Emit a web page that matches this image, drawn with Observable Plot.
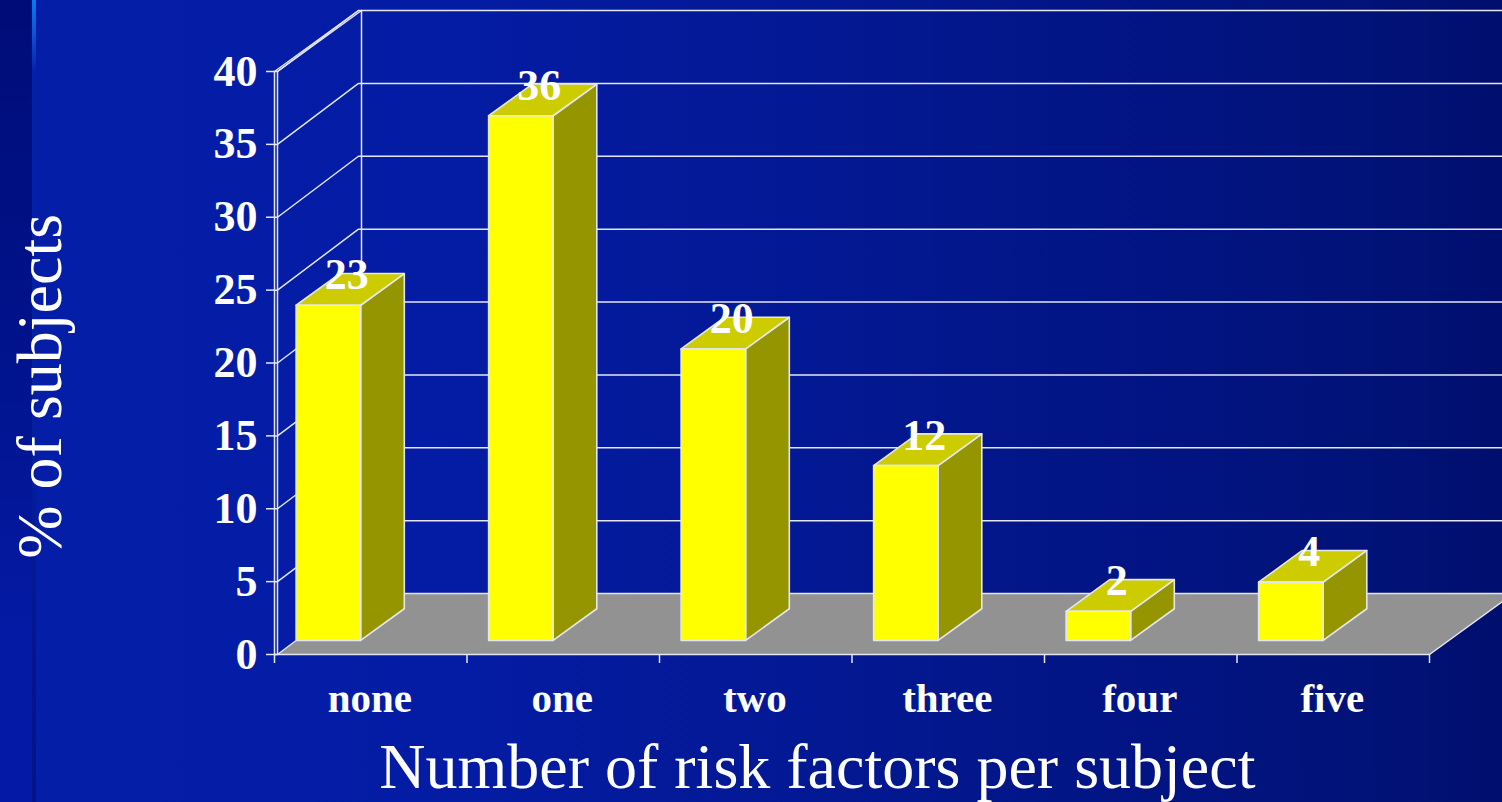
<!DOCTYPE html>
<html>
<head>
<meta charset="utf-8">
<script src="https://cdn.jsdelivr.net/npm/d3@7"></script>
<script src="https://cdn.jsdelivr.net/npm/@observablehq/plot@0.6"></script>
<style>
  html, body { margin: 0; width: 1502px; height: 802px; overflow: hidden; }
  body {
    position: relative;
    background: linear-gradient(90deg, #051ea8 0%, #041ca4 30%, #03178f 60%, #011279 90%, #000f6e 100%);
  }
  .band { position: absolute; left: 0; top: 0; width: 32px; height: 802px;
    background: linear-gradient(180deg, #000d78 0%, #00128a 40%, #041aa4 80%, #0419a6 100%); }
  .edge { position: absolute; left: 32px; top: 0; width: 4px; height: 802px;
    background: linear-gradient(180deg, #0a7af5 0%, #0a55d8 4%, #0620ab 9%, #05209f 50%, #03168e 80%, #03148a 100%); }
  svg { position: absolute; left: 0; top: 0; background: transparent; }
</style>
</head>
<body>
<div class="band"></div>
<div class="edge"></div>
<script>
// Share of subjects by number of risk factors
const categories = ["none", "one", "two", "three", "four", "five"];
const percentages = [23, 36, 20, 12, 2, 4];
const yTicks = [0, 5, 10, 15, 20, 25, 30, 35, 40];
const xTicks = [0, 1, 2, 3, 4, 5, 6];

// Oblique projection: depth d (0 front, 1 back) shifts a point in data units
const shearX = 84 / 192.5;
const shearY = 61 / 14.575;
const wallInset = 0.0156;
const project = (c, v, d) => ({x: c + d * shearX, y: v + d * shearY});

// Bars stand in the middle of the floor's depth
const barFront = 0.23, barBack = 0.75, barInset = 0.012, barWidth = 0.335;

const face = (i, corners) =>
  corners.map(([c, v, d]) => ({...project(c, v, d), i}));

const fronts = [], tops = [], sides = [];
percentages.forEach((v, i) => {
  const l = i + barInset, r = l + barWidth;
  fronts.push(...face(i, [[l, 0, barFront], [r, 0, barFront], [r, v, barFront], [l, v, barFront]]));
  tops.push(...face(i, [[l, v, barFront], [r, v, barFront], [r, v, barBack], [l, v, barBack]]));
  sides.push(...face(i, [[r, 0, barFront], [r, 0, barBack], [r, v, barBack], [r, v, barFront]]));
});

const floor = [[wallInset, 0, 0], [6, 0, 0], [6, 0, 1], [wallInset, 0, 1]]
  .map(([c, v, d]) => project(c, v, d));

// Horizontal lines across the back wall, each joined to its axis tick across the side wall
const wallLines = yTicks.flatMap(v => [
  {...project(0, v, 0), v},
  {...project(wallInset, v, 0), v},
  {...project(0, v, 1), v},
  {...project(6.05, v, 1), v}
]);

const serif = "'Liberation Serif', 'Times New Roman', serif";
const lineColor = "#e4e6f2";
const polygon = (data, fill) => Plot.line(data, {
  x: "x", y: "y", z: "i", fill, stroke: lineColor, strokeWidth: 1.6, curve: "linear-closed"
});
const edge = data => Plot.line(data, {x: "x", y: "y", stroke: lineColor, strokeWidth: 1.5});

const chart = Plot.plot({
  width: 1502,
  height: 802,
  marginLeft: 274,
  marginRight: 73,
  marginTop: 71,
  marginBottom: 148,
  style: {background: "transparent", color: "white"},
  x: {domain: [0, 6], axis: null},
  y: {domain: [0, 40], axis: null},
  marks: [
    Plot.line(floor, {x: "x", y: "y", fill: "#929292", stroke: "none", curve: "linear-closed"}),
    Plot.line(wallLines, {x: "x", y: "y", z: "v", stroke: lineColor, strokeWidth: 1.5}),
    edge([project(0, 40, 0), project(0, 40, 1)]),
    edge([project(wallInset, 40, 0), project(wallInset, 40, 1)]),
    edge([project(wallInset, 0, 1), project(wallInset, 40, 1)]),
    edge([project(0, 0, 0), project(0, 40, 0)]),
    edge([project(wallInset, 0, 0), project(wallInset, 40, 0)]),
    edge([project(0, 0, 0), project(6, 0, 0), project(6, 0, 1)]),
    Plot.axisY({
      ticks: yTicks, tickSize: 8, tickPadding: 9, stroke: lineColor, strokeWidth: 1.5,
      label: null, fill: "white",
      fontFamily: serif, fontWeight: "bold", fontSize: 44
    }),
    Plot.axisX({
      ticks: xTicks, tickSize: 9, tickFormat: () => "", stroke: lineColor, strokeWidth: 1.5, label: null
    }),
    polygon(sides, "#959500"),
    polygon(tops, "#cccc00"),
    polygon(fronts, "#ffff00"),
    // Value above each bar, centred on the bar's top face
    Plot.text(percentages, {
      x: (d, i) => project(i + barInset + barWidth / 2, d, 0.45).x,
      y: (d, i) => project(i, d, 0.49).y,
      text: d => String(d),
      lineAnchor: "bottom", fill: "white",
      fontFamily: serif, fontWeight: "bold", fontSize: 44
    }),
    Plot.text(categories, {
      x: (d, i) => i + 0.495, y: () => 0, dy: 57,
      lineAnchor: "bottom", fill: "white",
      fontFamily: serif, fontWeight: "bold", fontSize: 41
    }),
    Plot.text(["Number of risk factors per subject"], {
      x: () => 2.82, y: () => 0, dy: 133,
      lineAnchor: "bottom", fill: "white",
      fontFamily: serif, fontSize: 64
    }),
    Plot.text(["% of subjects"], {
      x: () => -1.216, y: () => 18.4, rotate: -90,
      lineAnchor: "middle", fill: "white",
      fontFamily: serif, fontSize: 64
    })
  ]
});
document.body.appendChild(chart);
</script>
</body>
</html>
